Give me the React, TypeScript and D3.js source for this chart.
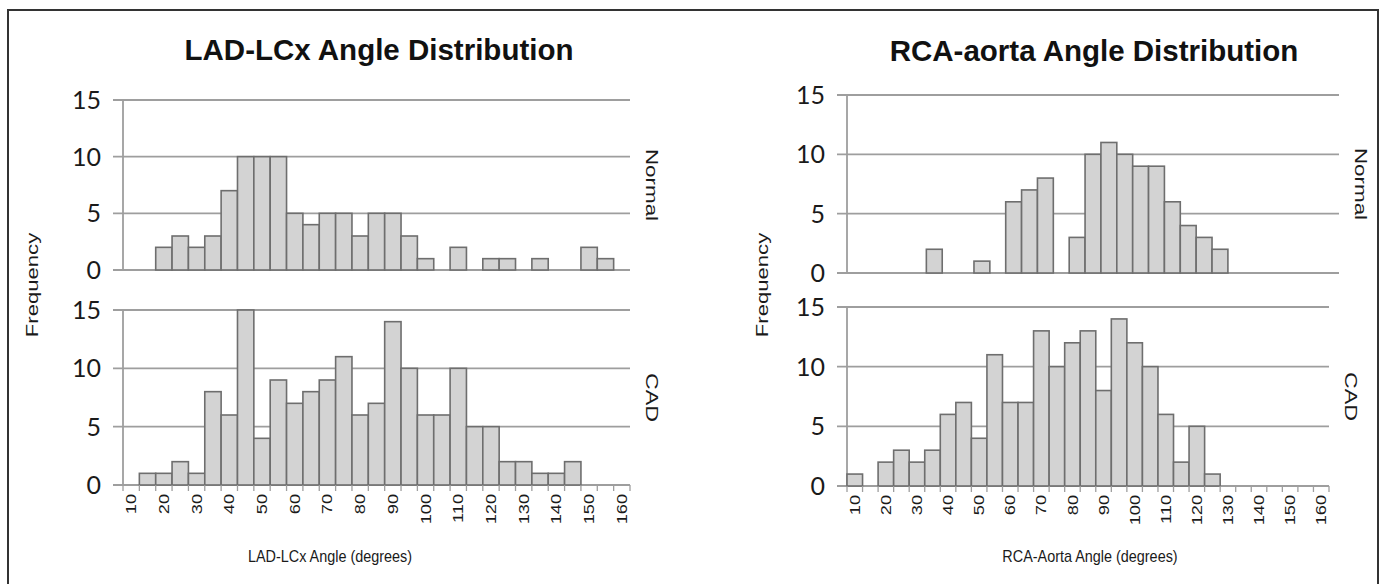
import React from "react";
import * as d3 from "d3";

// bin start angles (degrees), one bar per 5-degree bin
const categories = [10, 15, 20, 25, 30, 35, 40, 45, 50, 55, 60, 65, 70, 75, 80, 85, 90, 95, 100, 105, 110, 115, 120, 125, 130, 135, 140, 145, 150, 155, 160];
const tickLabels = [10, 20, 30, 40, 50, 60, 70, 80, 90, 100, 110, 120, 130, 140, 150, 160];
const yTicks = [0, 5, 10, 15];

const ladNormal = [0, 0, 2, 3, 2, 3, 7, 10, 10, 10, 5, 4, 5, 5, 3, 5, 5, 3, 1, 0, 2, 0, 1, 1, 0, 1, 0, 0, 2, 1, 0];
const ladCad = [0, 1, 1, 2, 1, 8, 6, 15, 4, 9, 7, 8, 9, 11, 6, 7, 14, 10, 6, 6, 10, 5, 5, 2, 2, 1, 1, 2, 0, 0, 0];
const rcaNormal = [0, 0, 0, 0, 0, 2, 0, 0, 1, 0, 6, 7, 8, 0, 3, 10, 11, 10, 9, 9, 6, 4, 3, 2, 0, 0, 0, 0, 0, 0, 0];
const rcaCad = [1, 0, 2, 3, 2, 3, 6, 7, 4, 11, 7, 7, 13, 10, 12, 13, 8, 14, 12, 10, 6, 2, 5, 1, 0, 0, 0, 0, 0, 0, 0];

const GRID = "#9e9e9e";
const BAR_FILL = "#d3d3d3";
const BAR_STROKE = "#6e6e6e";
const TICK_FONT = "Lato, 'Open Sans', sans-serif";
const ARIAL = "'Liberation Sans', Arial, sans-serif";

type PanelProps = {
  values: number[];
  x0: number;
  x1: number;
  yTop: number;
  yBottom: number;
  side: string;
  sideStretch: number;
  xAxis?: boolean;
};

function Panel({ values, x0, x1, yTop, yBottom, side, sideStretch, xAxis }: PanelProps) {
  const x = d3.scaleBand<number>().domain(categories).range([x0, x1]).padding(0);
  const y = d3.scaleLinear().domain([0, 15]).range([yBottom, yTop]);
  const bw = x.bandwidth();

  return (
    <g>
      {/* gridlines + y ticks */}
      {yTicks.map((t) => (
        <g key={t}>
          <line x1={x0 - 10} x2={x1} y1={y(t)} y2={y(t)} stroke={GRID} strokeWidth={1.8} />
          <text x={x0 - 22} y={y(t)} dy="0.36em" textAnchor="end" fontFamily={TICK_FONT} fontSize={25} fill="#1a1a1a">
            {t}
          </text>
        </g>
      ))}
      <line x1={x0} x2={x0} y1={yTop} y2={yBottom} stroke={GRID} strokeWidth={1.8} />

      {/* bars */}
      {values.map((v, i) =>
        v > 0 ? (
          <rect
            key={i}
            x={x(categories[i])!}
            y={y(v)}
            width={bw}
            height={yBottom - y(v)}
            fill={BAR_FILL}
            stroke={BAR_STROKE}
            strokeWidth={1.6}
          />
        ) : null
      )}

      {xAxis && (
        <g>
          {categories.map((c) => (
            <line key={c} x1={x(c)!} x2={x(c)!} y1={yBottom} y2={yBottom + 6} stroke={GRID} strokeWidth={1.3} />
          ))}
          <line x1={x1} x2={x1} y1={yBottom} y2={yBottom + 6} stroke={GRID} strokeWidth={1.3} />
          {tickLabels.map((t) => {
            const cx = x(t)! + bw / 2;
            return (
              <text
                key={t}
                transform={`translate(${cx},${yBottom + 9}) rotate(-90) scale(1.3,1)`}
                dy="0.36em"
                textAnchor="end"
                fontFamily={ARIAL}
                fontSize={14}
                fill="#1a1a1a"
              >
                {t}
              </text>
            );
          })}
        </g>
      )}

      <text
        transform={`translate(${x1 + 16},${(yTop + yBottom) / 2}) rotate(90) scale(${sideStretch},1)`}
        textAnchor="middle"
        fontFamily={ARIAL}
        fontSize={16}
        fill="#1a1a1a"
      >
        {side}
      </text>
    </g>
  );
}

export default function App() {
  return (
    <svg width={1385} height={584} style={{ position: "absolute", left: 0, top: 0, background: "#fff" }}>
      <rect x={8} y={10} width={1370} height={600} fill="#fff" stroke="#333" strokeWidth={2} />

      {/* left chart */}
      <text x={379} y={60} textAnchor="middle" fontFamily={ARIAL} fontWeight="bold" fontSize={29.5} fill="#111">
        LAD-LCx Angle Distribution
      </text>
      <Panel values={ladNormal} x0={123} x1={630} yTop={100} yBottom={270} side="Normal" sideStretch={1.4} />
      <Panel values={ladCad} x0={123} x1={630} yTop={310} yBottom={485} side="CAD" sideStretch={1.45} xAxis />
      <text transform="translate(38,285) rotate(-90) scale(1.3,1)" textAnchor="middle" fontFamily={ARIAL} fontSize={17} fill="#1a1a1a">
        Frequency
      </text>
      <text transform="translate(330,562) scale(0.9,1)" textAnchor="middle" fontFamily={ARIAL} fontSize={16} fill="#1a1a1a">
        LAD-LCx Angle (degrees)
      </text>

      {/* right chart */}
      <text x={1094} y={61} textAnchor="middle" fontFamily={ARIAL} fontWeight="bold" fontSize={29.5} fill="#111">
        RCA-aorta Angle Distribution
      </text>
      <Panel values={rcaNormal} x0={847} x1={1339} yTop={95} yBottom={273} side="Normal" sideStretch={1.4} />
      <Panel values={rcaCad} x0={847} x1={1329} yTop={307} yBottom={486} side="CAD" sideStretch={1.45} xAxis />
      <text transform="translate(768,285) rotate(-90) scale(1.3,1)" textAnchor="middle" fontFamily={ARIAL} fontSize={17} fill="#1a1a1a">
        Frequency
      </text>
      <text transform="translate(1090,562) scale(0.9,1)" textAnchor="middle" fontFamily={ARIAL} fontSize={16} fill="#1a1a1a">
        RCA-Aorta Angle (degrees)
      </text>
    </svg>
  );
}
